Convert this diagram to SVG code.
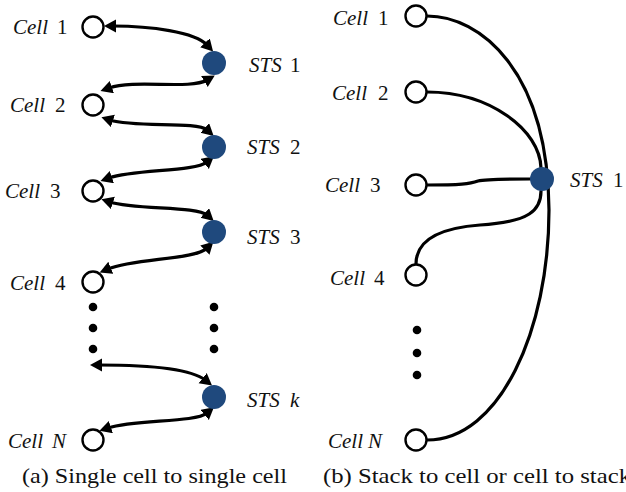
<svg xmlns="http://www.w3.org/2000/svg" width="626" height="492" viewBox="0 0 626 492">
<style>
  .bg{fill:#ffffff}
  .cell{fill:#ffffff;stroke:#000000;stroke-width:2.4}
  .sts{fill:#1f497d;stroke:none}
  .dot{fill:#000000}
  .lbl{font-size:21px;fill:#111111}
  .it{font-style:italic}
  .cap{font-size:21px;fill:#111111}
  .arw{fill:none;stroke:#000000;stroke-width:3.2;marker-start:url(#ah);marker-end:url(#ah)}
  .wire{fill:none;stroke:#000000;stroke-width:3.2;stroke-linecap:round}
</style>
<defs>
  <marker id="ah" markerUnits="userSpaceOnUse" markerWidth="16" markerHeight="16" refX="3" refY="6.5" orient="auto-start-reverse">
    <path d="M0,0 L12,6.5 L0,13 Z" fill="#000000"/>
  </marker>
</defs>
<rect class="bg" x="0" y="0" width="626" height="492"/>

<!-- connectors -->
<g id="connectors">
  <g id="left-arrows">
    <path class="arw" d="M113,26 C150,26 195,32 207,45"/>
    <path class="arw" d="M109,88 C135,79 190,90 207,80"/>
    <path class="arw" d="M110,120 C135,128 197,121 207,130"/>
    <path class="arw" d="M109,178 C135,169 195,172 207,162"/>
    <path class="arw" d="M110,202 C135,210 197,206 207,215"/>
    <path class="arw" d="M108,269 C135,258 195,260 207,248"/>
    <path class="arw" d="M99,365 C140,365 190,368 205,380"/>
    <path class="arw" d="M108,428 C135,419 195,423 207,413"/>
  </g>
  <g id="right-wires">
    <path class="wire" d="M427,16 C480,16 548,70 549,210 C549,330 500,440 427,440"/>
    <path class="wire" d="M427,92 C490,92 540,130 541,168"/>
    <path class="wire" d="M427,185 C460,185 470,184 478,181 C486,179 510,179 530,179"/>
    <path class="wire" d="M416,264 C416,240 440,228 480,225 C530,222 541,210 541,191"/>
  </g>
</g>

<g font-family="Liberation Serif, Times New Roman, Times, serif">
<!-- left panel nodes -->
<g id="a-cell1"><circle class="cell" cx="93" cy="27" r="10.5"/><text class="lbl" y="34"><tspan class="it" x="13">Cell</tspan><tspan x="57">1</tspan></text></g>
<g id="a-cell2"><circle class="cell" cx="93" cy="105" r="10.5"/><text class="lbl" y="112"><tspan class="it" x="10">Cell</tspan><tspan x="55">2</tspan></text></g>
<g id="a-cell3"><circle class="cell" cx="93" cy="191" r="10.5"/><text class="lbl" y="198"><tspan class="it" x="5">Cell</tspan><tspan x="50">3</tspan></text></g>
<g id="a-cell4"><circle class="cell" cx="93" cy="282" r="10.5"/><text class="lbl" y="290"><tspan class="it" x="10">Cell</tspan><tspan x="55">4</tspan></text></g>
<g id="a-cellN"><circle class="cell" cx="93" cy="440" r="10.5"/><text class="lbl" y="448"><tspan class="it" x="8">Cell</tspan><tspan class="it" x="52">N</tspan></text></g>

<g id="a-sts1"><circle class="sts" cx="214" cy="63" r="12"/><text class="lbl" y="72"><tspan class="it" x="249">STS</tspan><tspan x="290">1</tspan></text></g>
<g id="a-sts2"><circle class="sts" cx="214" cy="147" r="12"/><text class="lbl" y="154"><tspan class="it" x="247">STS</tspan><tspan x="290">2</tspan></text></g>
<g id="a-sts3"><circle class="sts" cx="214" cy="232" r="12"/><text class="lbl" y="244"><tspan class="it" x="247">STS</tspan><tspan x="290">3</tspan></text></g>
<g id="a-stsk"><circle class="sts" cx="214" cy="397" r="12"/><text class="lbl" y="407"><tspan class="it" x="247">STS</tspan><tspan class="it" x="290">k</tspan></text></g>

<g id="a-ellipsis">
  <circle class="dot" cx="93" cy="307" r="4.3"/>
  <circle class="dot" cx="93" cy="328" r="4.3"/>
  <circle class="dot" cx="93" cy="349" r="4.3"/>
  <circle class="dot" cx="214" cy="307" r="4.3"/>
  <circle class="dot" cx="214" cy="328" r="4.3"/>
  <circle class="dot" cx="214" cy="349" r="4.3"/>
</g>

<!-- right panel nodes -->
<g id="b-cell1"><circle class="cell" cx="416" cy="16" r="10.5"/><text class="lbl" y="25"><tspan class="it" x="333">Cell</tspan><tspan x="378">1</tspan></text></g>
<g id="b-cell2"><circle class="cell" cx="416" cy="92" r="10.5"/><text class="lbl" y="100"><tspan class="it" x="332">Cell</tspan><tspan x="378">2</tspan></text></g>
<g id="b-cell3"><circle class="cell" cx="416" cy="185" r="10.5"/><text class="lbl" y="192"><tspan class="it" x="325">Cell</tspan><tspan x="370">3</tspan></text></g>
<g id="b-cell4"><circle class="cell" cx="416" cy="275" r="10.5"/><text class="lbl" y="285"><tspan class="it" x="330">Cell</tspan><tspan x="374">4</tspan></text></g>
<g id="b-cellN"><circle class="cell" cx="416" cy="440" r="10.5"/><text class="lbl" y="448"><tspan class="it" x="328">Cell</tspan><tspan class="it" x="368">N</tspan></text></g>
<g id="b-sts1"><circle class="sts" cx="542" cy="179" r="12"/><text class="lbl" y="187"><tspan class="it" x="570">STS</tspan><tspan x="613">1</tspan></text></g>
<g id="b-ellipsis">
  <circle class="dot" cx="417" cy="330" r="4.3"/>
  <circle class="dot" cx="417" cy="353" r="4.3"/>
  <circle class="dot" cx="417" cy="375" r="4.3"/>
</g>

<!-- captions -->
<text class="cap" x="22" y="483" textLength="265" lengthAdjust="spacingAndGlyphs">(a) Single cell to single cell</text>
<text class="cap" x="323" y="483" textLength="308" lengthAdjust="spacingAndGlyphs">(b) Stack to cell or cell to stack</text>
</g>
</svg>
